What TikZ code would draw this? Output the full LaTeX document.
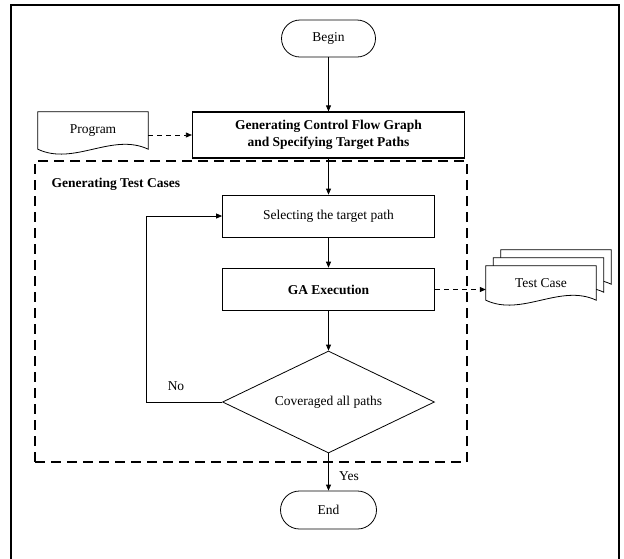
\documentclass[tikz,border=0pt]{standalone}
\usepackage{fontspec}
\setmainfont{Liberation Serif}
\usetikzlibrary{shapes.geometric,arrows.meta,backgrounds,calc}

% outline of a document symbol around a node, shifted by (#2,#3)
\newcommand\docoutline[3]{%
  \draw[docshape] ([shift={(#2,#3)}]#1.north west) -- ([shift={(#2,#3)}]#1.north east)
    -- ([shift={(#2,#3)}]#1.south east)
    .. controls +(-36,-17) and +(36,17) .. ([shift={(#2,#3)}]#1.south west) -- cycle;}

\begin{document}
\begin{tikzpicture}[x=1pt,y=-1pt,
  every node/.style={font=\fontsize{13.5}{17}\selectfont},
  proc/.style={draw,line width=0.8pt,minimum width=212pt,minimum height=42pt,align=center,inner sep=0pt},
  term/.style={draw,line width=0.8pt,rounded corners=18.5pt,minimum width=94pt,minimum height=37pt,inner sep=0pt},
  dec/.style={draw,diamond,aspect=2,line width=0.8pt,minimum width=212pt,minimum height=102pt,inner sep=0pt},
  docshape/.style={draw,line width=0.8pt,fill=white},
  doctext/.style={minimum width=110pt,inner sep=0pt},
  flow/.style={draw,line width=0.8pt,-{Triangle[length=6pt,width=5pt]}},
  dataflow/.style={flow,dash pattern=on 5pt off 4pt},
  group/.style={draw,dash pattern=on 10pt off 6pt,line width=1.4pt,inner sep=0pt},
]
\useasboundingbox (0,0) rectangle (624,558);
\draw[line width=1.2pt] (11,5) rectangle (619,575);

% main column
\node[term] (begin) at (328.5,38.5) {Begin};
\node[proc,line width=1.2pt,minimum width=272pt,minimum height=46pt] (cfg) at (328.5,135)
  {\bfseries Generating Control Flow Graph\\\bfseries and Specifying Target Paths};

% group of test case generation steps
\node[group,minimum width=432pt,minimum height=301pt] (grp) at (251,311.5) {};
\node[anchor=west,font=\fontsize{13.5}{17}\selectfont\bfseries] (grplabel) at (48,184) {Generating Test Cases};

\node[proc] (sel) at (328.5,216) {Selecting the target path};
\node[proc,line width=1.6pt] (ga) at (328.5,289.5) {\bfseries GA Execution};
\node[dec] (dia) at (328.5,402) {Coveraged all paths};
\node[term,minimum width=96pt,minimum height=38pt,rounded corners=19pt] (end) at (328.5,510) {End};

% documents
\node[doctext,minimum height=37pt] (prog) at (93,130.5) {Program};
\node[doctext,minimum height=34pt] (tc) at (541,283) {Test Case};
\begin{pgfonlayer}{background}
  \docoutline{prog}{0}{0}
  \docoutline{tc}{15}{-16}
  \docoutline{tc}{7.5}{-8}
  \docoutline{tc}{0}{0}
\end{pgfonlayer}

% connectors
\coordinate (loopx) at (146,0);
\draw[flow] (begin) -- (cfg);
\draw[dataflow] (cfg.west -| prog.east) -- (cfg.west);
\draw[flow] (cfg) -- (sel);
\draw[flow] (sel) -- (ga);
\draw[flow] (ga) -- (dia);
\draw[dataflow] (ga.east) -- (ga.east -| tc.west);
\draw[flow] (dia.west) -- (dia.west -| loopx) |- (sel.west);
\draw[flow] (dia) -- (end);
\node (no) at (176,386) {No};
\node (yes) at (349,476) {Yes};
\end{tikzpicture}
\end{document}
